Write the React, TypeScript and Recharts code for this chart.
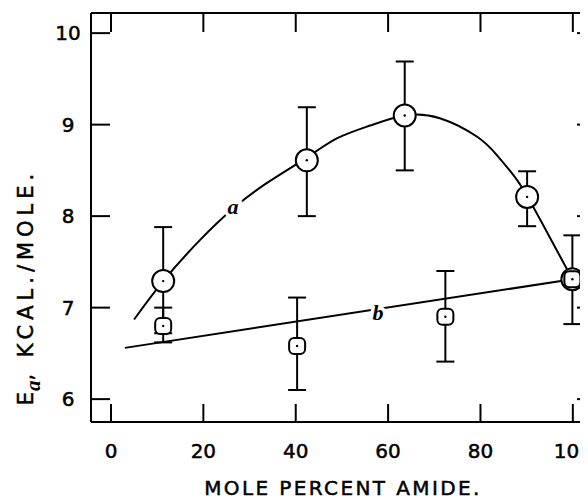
import React from 'react';
import { ComposedChart, XAxis, YAxis, Scatter, Line, ErrorBar, ReferenceDot } from 'recharts';

const xTicks = [0, 20, 40, 60, 80, 100];
const yTicks = [6, 7, 8, 9, 10];

// series a (circles)
const circleX = [11.3, 42.4, 63.6, 90.1, 99.9];
const circleY = [7.29, 8.61, 9.10, 8.21, 7.31];
const circleLow = [6.72, 8.0, 8.5, 7.89, 6.82];
const circleHigh = [7.88, 9.19, 9.69, 8.49, 7.79];

// series b (squares)
const squareX = [11.3, 40.3, 72.4, 99.9];
const squareY = [6.8, 6.58, 6.9, 7.31];
const squareLow = [6.62, 6.1, 6.41, 7.31];
const squareHigh = [7.0, 7.11, 7.4, 7.31];

// fitted curve a
const curveAX = [5, 11.3, 19.3, 26.4, 33.7, 42.4, 48.9, 56.1, 63.6, 71.2, 79.2, 83.5, 87.1, 90.1, 95.0, 99.9];
const curveAY = [6.87, 7.29, 7.74, 8.08, 8.36, 8.64, 8.85, 8.99, 9.1, 9.07, 8.87, 8.67, 8.45, 8.22, 7.77, 7.31];

// fitted line b
const lineBX = [3, 99.9];
const lineBY = [6.56, 7.31];

const curveLabels = ['a', 'b'];
const curveLabelX = [26.4, 57.8];
const curveLabelY = [8.1, 6.95];

const circles = circleX.map((x, i) => ({ x, y: circleY[i], err: [circleY[i] - circleLow[i], circleHigh[i] - circleY[i]] }));
const squares = squareX.map((x, i) => ({ x, y: squareY[i], err: [squareY[i] - squareLow[i], squareHigh[i] - squareY[i]] }));
const curveA = curveAX.map((x, i) => ({ x, y: curveAY[i] }));
const lineB = lineBX.map((x, i) => ({ x, y: lineBY[i] }));

const FONT = '"DejaVu Sans", sans-serif';
const TXT = { fontFamily: FONT, fill: '#000', stroke: '#000', strokeWidth: 0.5 } as const;

const LeftTick = (p: any) => (
  <g>
    <line x1={p.x} x2={p.x + 19} y1={p.y} y2={p.y} stroke="#000" strokeWidth={2} />
    <text x={p.x - 23} y={p.y} textAnchor="middle" dominantBaseline="central" fontSize={20} {...TXT}>
      {p.payload.value}
    </text>
  </g>
);
const RightTick = (p: any) => (
  <line x1={p.x - 18} x2={p.x} y1={p.y} y2={p.y} stroke="#000" strokeWidth={2} />
);
const BottomTick = (p: any) => (
  <g>
    <line x1={p.x} x2={p.x} y1={p.y} y2={p.y - 18} stroke="#000" strokeWidth={2} />
    <text x={p.x} y={p.y + 36} textAnchor="middle" fontSize={20} {...TXT}>
      {p.payload.value}
    </text>
  </g>
);
const TopTick = (p: any) => (
  <line x1={p.x} x2={p.x} y1={p.y} y2={p.y + 19} stroke="#000" strokeWidth={2} />
);

const CircleMark = (p: any) => (
  <g>
    <circle cx={p.cx} cy={p.cy} r={11} fill="#fff" stroke="#000" strokeWidth={2} />
    <circle cx={p.cx} cy={p.cy} r={1.2} fill="#000" />
  </g>
);
const SquareMark = (p: any) => (
  <g>
    <rect x={p.cx - 8} y={p.cy - 8} width={16} height={16} rx={5} fill="#fff" stroke="#000" strokeWidth={2} />
    <circle cx={p.cx} cy={p.cy} r={1.2} fill="#000" />
  </g>
);
const NoMark = () => <g />;

const CurveLabel = (text: string) => (p: any) => (
  <text x={p.cx} y={p.cy} textAnchor="middle" dominantBaseline="central" fontSize={22} fontStyle="italic" fontWeight="bold"
    fontFamily='"Liberation Serif", serif' fill="#000" stroke="#fff" strokeWidth={7} paintOrder="stroke">
    {text}
  </text>
);

const YTitle = (p: any) => {
  const vb = p.viewBox;
  const cx = vb.x + 18;
  const cy = 279;
  return (
    <text x={cx} y={cy} transform={`rotate(-90, ${cx}, ${cy})`} textAnchor="middle" dominantBaseline="central"
      fontSize={21} {...TXT}>
      <tspan letterSpacing={1}>E</tspan>
      <tspan dy={7} fontStyle="italic" fontWeight="bold" fontFamily='"Liberation Serif", serif' strokeWidth={0}>a</tspan>
      <tspan dy={-7} letterSpacing={5}>{', KCAL./MOLE.'}</tspan>
    </text>
  );
};

const XTitle = (p: any) => {
  const vb = p.viewBox;
  return (
    <text x={335} y={vb.y + 73} textAnchor="middle" fontSize={20} letterSpacing={2.4} {...TXT}>
      MOLE PERCENT AMIDE.
    </text>
  );
};

export default function App() {
  return (
    <div style={{ width: 580, height: 494, overflow: 'hidden' }}>
      <ComposedChart width={588} height={494} margin={{ top: 4, right: 0, bottom: 0, left: 0 }}>
        <XAxis xAxisId={0} dataKey="x" type="number" domain={[-4.33, 104.8]} allowDataOverflow ticks={xTicks}
          height={80} tickSize={0} tickMargin={0} tickLine={false} tick={BottomTick} interval={0}
          axisLine={{ stroke: '#000', strokeWidth: 2 }} label={{ content: XTitle }} />
        <XAxis xAxisId="t" orientation="top" dataKey="x" type="number" domain={[-4.33, 104.8]} allowDataOverflow ticks={xTicks}
          height={1} tickSize={0} tickMargin={0} tickLine={false} tick={TopTick} interval={0}
          axisLine={{ stroke: '#000', strokeWidth: 2 }} />
        <YAxis yAxisId={0} type="number" domain={[5.75, 10.22]} allowDataOverflow ticks={yTicks} width={83}
          tickSize={0} tickMargin={0} tickLine={false} tick={LeftTick} interval={0}
          axisLine={{ stroke: '#000', strokeWidth: 2 }} label={{ content: YTitle }} />
        <YAxis yAxisId="r" orientation="right" type="number" domain={[5.75, 10.22]} allowDataOverflow ticks={yTicks} width={1}
          tickSize={0} tickMargin={0} tickLine={false} tick={RightTick} interval={0}
          axisLine={{ stroke: '#000', strokeWidth: 2 }} />
        <Scatter xAxisId="t" yAxisId="r" data={circles} dataKey="y" shape={NoMark} isAnimationActive={false} />
        <Line data={curveA} dataKey="y" type="natural" stroke="#000" strokeWidth={2} dot={false} isAnimationActive={false} />
        <Line data={lineB} dataKey="y" type="linear" stroke="#000" strokeWidth={2} dot={false} isAnimationActive={false} />
        <Scatter data={circles} dataKey="y" shape={NoMark} isAnimationActive={false}>
          <ErrorBar dataKey="err" direction="y" width={9} stroke="#000" strokeWidth={2} isAnimationActive={false} />
        </Scatter>
        <Scatter data={squares} dataKey="y" shape={NoMark} isAnimationActive={false}>
          <ErrorBar dataKey="err" direction="y" width={9} stroke="#000" strokeWidth={2} isAnimationActive={false} />
        </Scatter>
        <Scatter data={circles} dataKey="y" shape={CircleMark} isAnimationActive={false} />
        <Scatter data={squares} dataKey="y" shape={SquareMark} isAnimationActive={false} />
        {curveLabels.map((t, i) => (
          <ReferenceDot key={t} x={curveLabelX[i]} y={curveLabelY[i]} r={0} ifOverflow="visible" shape={CurveLabel(t)} />
        ))}
      </ComposedChart>
    </div>
  );
}
